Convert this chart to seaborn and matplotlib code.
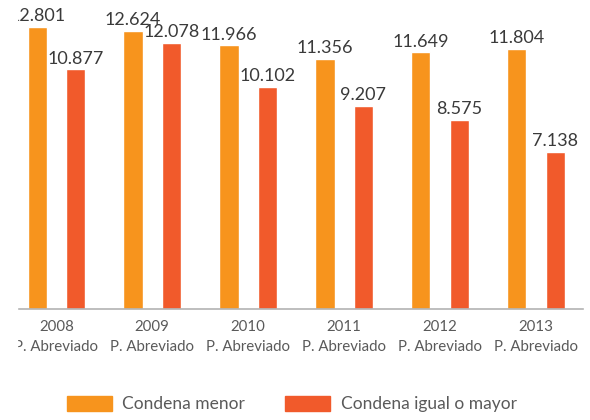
import pandas as pd
import seaborn as sns
import matplotlib.pyplot as plt
from matplotlib.patches import Rectangle

years = ["2008", "2009", "2010", "2011", "2012", "2013"]
tick_labels = [y + "\nP. Abreviado" for y in years]
series = ["Condena menor", "Condena igual o mayor"]
menor = [12.801, 12.624, 11.966, 11.356, 11.649, 11.804]
igual_mayor = [10.877, 12.078, 10.102, 9.207, 8.575, 7.138]

colors = ["#F7941D", "#F15A2B"]

df = pd.DataFrame({
    "year": years * 2,
    "serie": [series[0]] * len(years) + [series[1]] * len(years),
    "value": menor + igual_mayor,
})

sns.set_style("white")
plt.rcParams["font.family"] = ["Lato", "DejaVu Sans"]

fig = plt.figure(figsize=(5.9, 4.2), dpi=100)
ax = fig.add_axes([17 / 590, 1 - 309 / 420, 566 / 590, 309 / 420])

sns.barplot(data=df, x="year", y="value", hue="serie", palette=colors,
            width=0.8, gap=0.5, legend=False, ax=ax, saturation=1)

for cont in ax.containers:
    ax.bar_label(cont, labels=[f"{v:.3f}" for v in cont.datavalues],
                 padding=2, fontsize=13, color="#3a3a3a")

ax.set_xlim(-0.41, 5.49)
ax.set_ylim(0, 14.03)
ax.set_xlabel("")
ax.set_ylabel("")
ax.set_yticks([])
ax.set_xticks(range(len(years)))
ax.set_xticklabels(tick_labels, fontsize=10.8, color="#5a5a5a", linespacing=1.5)
ax.tick_params(axis="x", length=0, pad=8)
for s in ["top", "left", "right"]:
    ax.spines[s].set_visible(False)
ax.spines["bottom"].set_color("#b3b3b3")
ax.spines["bottom"].set_linewidth(1.2)

fig.legend(handles=[Rectangle((0, 0), 1, 1, color=c) for c in colors],
           labels=series, loc="center left", bbox_to_anchor=(51 / 590, 1 - 404 / 420),
           ncol=2, frameon=False, fontsize=12.5, labelcolor="#5a5a5a",
           handlelength=2.6, handleheight=1.0, handletextpad=0.6,
           columnspacing=2.3)

# the original picture is cut off at its left edge
fig.add_artist(Rectangle((0, 0), 17 / 590, 1, transform=fig.transFigure,
                         color="white", zorder=10))

fig.savefig("out.png", dpi=100)
